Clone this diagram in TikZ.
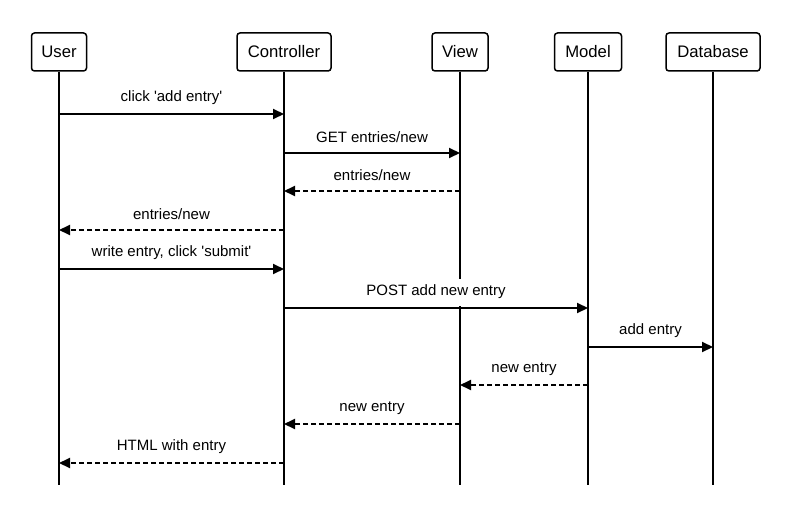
\documentclass[tikz,border=0pt]{standalone}
\usepackage{fontspec}
\setmainfont{Liberation Sans}[Ligatures=NoCommon]
\usetikzlibrary{arrows.meta}
\newcommand{\sq}{\textquotesingle}
\begin{document}
\begin{tikzpicture}[x=1pt,y=-1pt,
  actor/.style={draw,line width=1.5pt,rounded corners=3pt,fill=white,font=\fontsize{16.7}{18}\selectfont,minimum height=38pt,inner sep=0pt},
  life/.style={line width=2pt},
  msg/.style={line width=2pt,-{Triangle[length=11pt,width=10pt]}},
  reply/.style={msg,dash pattern=on 5pt off 3pt},
  lbl/.style={fill=white,font=\fontsize{15}{16}\selectfont,inner xsep=2pt,inner ysep=0pt,minimum height=27pt,anchor=center}]
\useasboundingbox (0,0) rectangle (794,513);
% actors
\node[actor,minimum width=55pt] (user) at (59,52) {User};
\node[actor,minimum width=94pt] (ctrl) at (284,52) {Controller};
\node[actor,minimum width=56pt] (view) at (460,52) {View};
\node[actor,minimum width=67pt] (model) at (588,52) {Model};
\node[actor,minimum width=94pt] (db) at (713,52) {Database};
% lifeline ends
\coordinate (userE) at (59,485);
\coordinate (ctrlE) at (284,485);
\coordinate (viewE) at (460,485);
\coordinate (modelE) at (588,485);
\coordinate (dbE) at (713,485);
\draw[life] (user.south) -- (userE);
\draw[life] (ctrl.south) -- (ctrlE);
\draw[life] (view.south) -- (viewE);
\draw[life] (model.south) -- (modelE);
\draw[life] (db.south) -- (dbE);
% messages
\foreach \y/\a/\b/\st/\t in {
  114/59/284/msg/{click \sq add entry\sq},
  153/284/460/msg/{GET entries/new},
  191/460/284/reply/{entries/new},
  230/284/59/reply/{entries/new},
  269/59/284/msg/{write entry, click \sq submit\sq},
  308/284/588/msg/{POST add new entry},
  347/588/713/msg/{add entry},
  385/588/460/reply/{new entry},
  424/460/284/reply/{new entry},
  463/284/59/reply/{HTML with entry}}
{
  \coordinate (s) at (\a,\y);
  \coordinate (e) at (\b,\y);
  \draw[\st] (s) -- (e);
  \node[lbl] at ({(\a+\b)/2},\y-16) {\t};
}
\end{tikzpicture}
\end{document}
